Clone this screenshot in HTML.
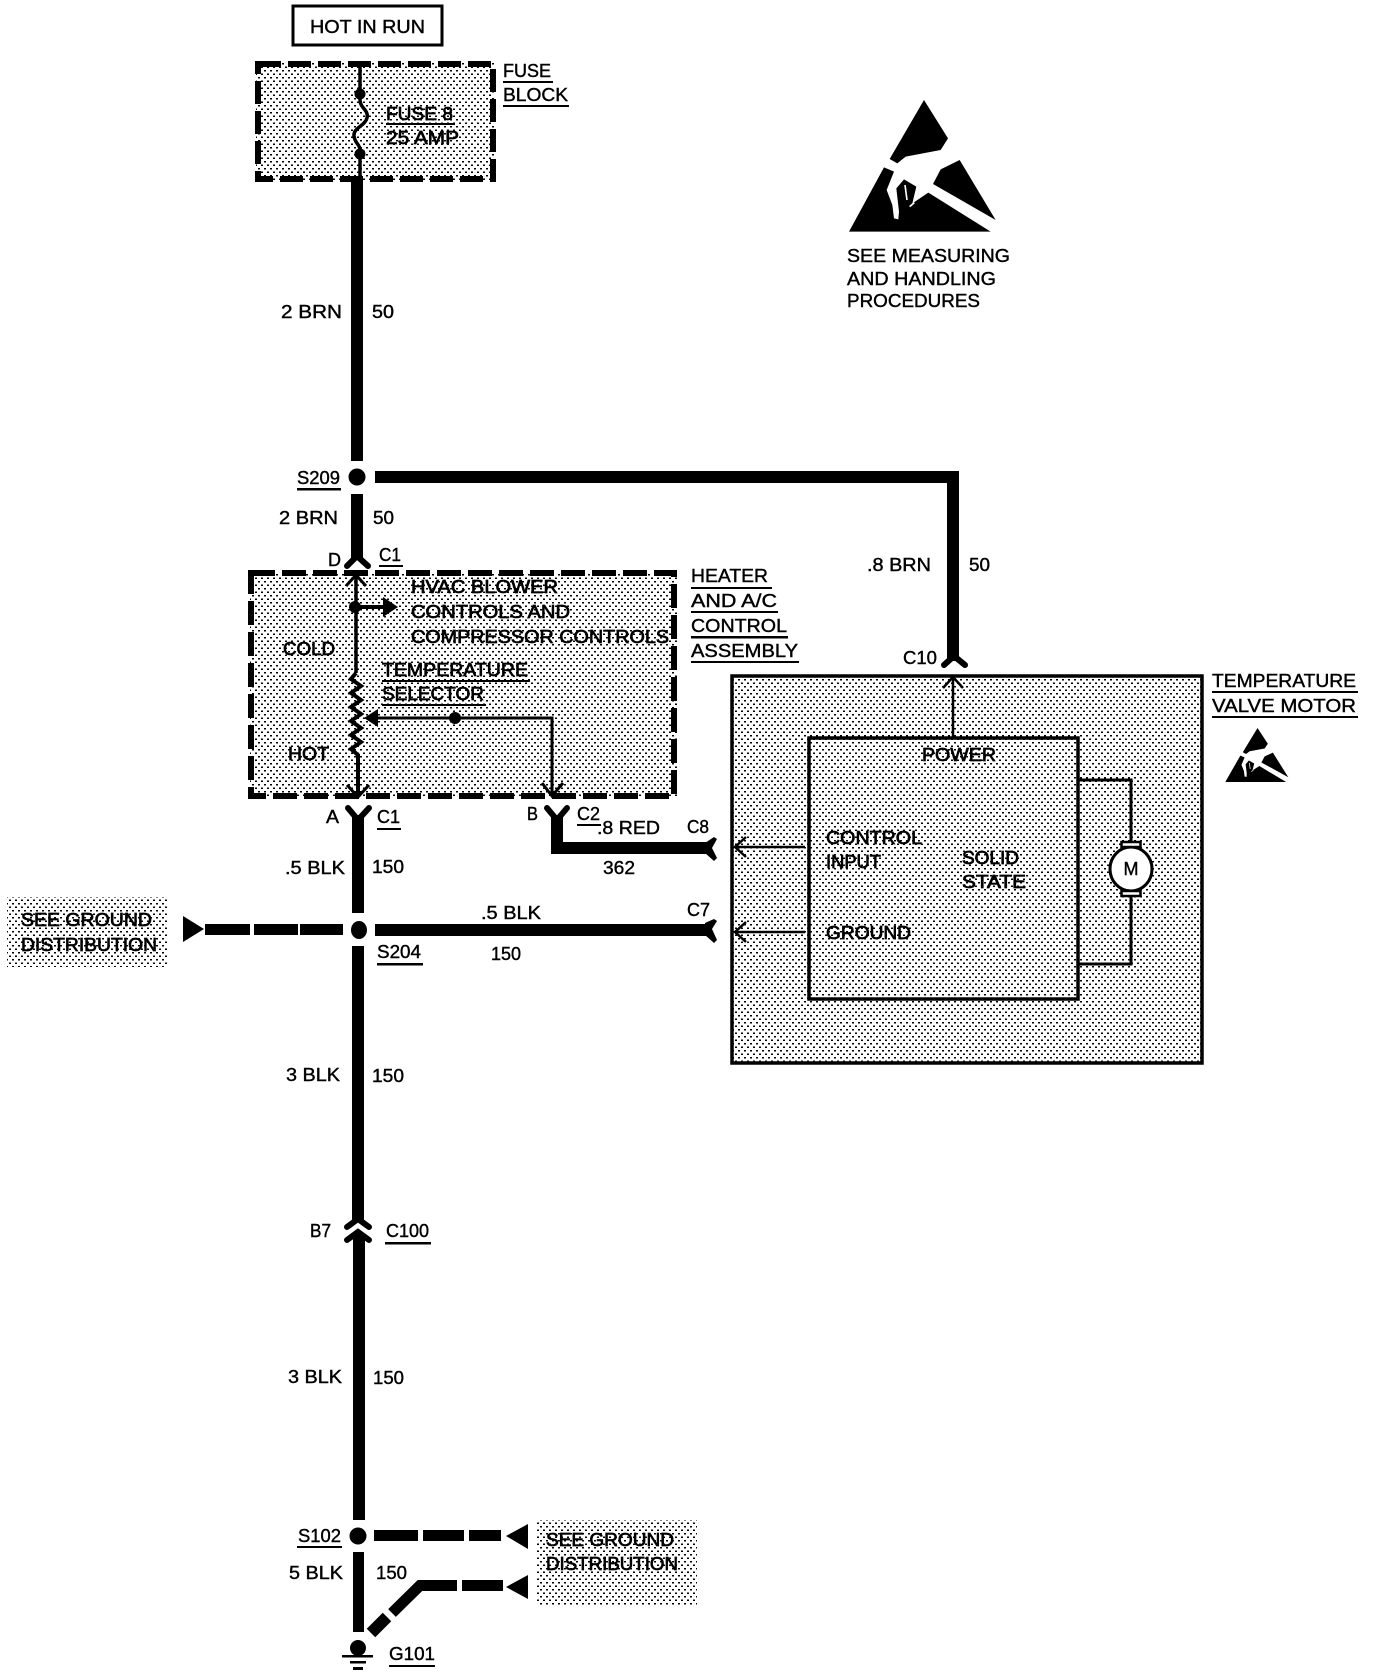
<!DOCTYPE html>
<html><head><meta charset="utf-8"><title>Wiring diagram</title>
<style>
html,body{margin:0;padding:0;background:#fff}
svg{display:block}
text{font-family:"Liberation Sans",sans-serif;font-size:18px;fill:#000;stroke:#000;stroke-width:.4px}
text.b{stroke-width:.7px}
.w{stroke:#000;fill:none}
</style></head><body>
<svg xmlns="http://www.w3.org/2000/svg" width="1376" height="1674" viewBox="0 0 1376 1674">
<defs>
<pattern id="st" width="6" height="7" patternUnits="userSpaceOnUse">
<rect width="6" height="7" fill="#fff"/>
<rect x="0" y="0" width="2" height="1.5" fill="#000"/>
<rect x="3" y="3.500" width="2" height="1.5" fill="#000"/>
</pattern>
<g id="esd">
<polygon points="255,30 327,145 305,180 200,200 175,220 152,207"/>
<polygon points="135,232 30,425 455,425 268,308 220,340 232,290 195,268 172,295 180,365 178,388 165,385 160,345 143,300 165,245"/>
<polygon points="362,210 470,390 282,282 305,238"/>
<path d="M198 285L204 330M212 350L226 338" stroke="#fff" stroke-width="5" fill="none"/>
</g>
</defs>

<!-- shaded zones -->
<rect x="256" y="62" width="239" height="119" fill="url(#st)"/>
<rect x="250" y="572" width="427" height="225" fill="url(#st)"/>
<rect x="732" y="675" width="470" height="388" fill="url(#st)"/>
<rect x="7" y="897" width="161" height="70" fill="url(#st)"/>
<rect x="537" y="1520" width="160" height="85" fill="url(#st)"/>

<!-- hot in run -->
<rect x="293" y="6" width="149" height="39" fill="#fff" stroke="#000" stroke-width="3"/>
<text x="310" y="33" textLength="115" lengthAdjust="spacingAndGlyphs">HOT IN RUN</text>

<!-- fuse block -->
<rect x="258" y="64" width="235" height="115" class="w" stroke-width="6" stroke-dasharray="23 7"/>
<path d="M360 64V100C360 108 369 110 367 118C365 126 353 128 354 136C355 144 360 144 360 150V178" class="w" stroke-width="3.5"/>
<circle cx="360" cy="94" r="5.5"/><circle cx="360" cy="154" r="5.5"/>
<rect x="351" y="177" width="12" height="284"/>
<text x="503" y="77" textLength="48" lengthAdjust="spacingAndGlyphs">FUSE</text>
<rect x="503" y="81" width="50" height="2"/>
<text x="503" y="101" textLength="65" lengthAdjust="spacingAndGlyphs">BLOCK</text>
<rect x="503" y="105" width="66" height="2"/>
<text class="b" x="386" y="120" textLength="67" lengthAdjust="spacingAndGlyphs">FUSE 8</text>
<rect x="386" y="123" width="69" height="2"/>
<text class="b" x="386" y="144" textLength="73" lengthAdjust="spacingAndGlyphs">25 AMP</text>

<text x="281" y="318" textLength="61" lengthAdjust="spacingAndGlyphs">2 BRN</text>
<text x="372" y="318" textLength="22" lengthAdjust="spacingAndGlyphs">50</text>

<!-- ESD large -->
<use href="#esd" transform="translate(819,80) scale(.33333)" x="60" y="30"/>
<text x="847" y="262" textLength="163" lengthAdjust="spacingAndGlyphs">SEE MEASURING</text>
<text x="847" y="285" textLength="149" lengthAdjust="spacingAndGlyphs">AND HANDLING</text>
<text x="847" y="307" textLength="133" lengthAdjust="spacingAndGlyphs">PROCEDURES</text>

<!-- S209 -->
<circle cx="357" cy="477" r="8.5"/>
<text x="297" y="484" textLength="43" lengthAdjust="spacingAndGlyphs">S209</text>
<rect x="297" y="488" width="44" height="2.500"/>
<rect x="351" y="494" width="12" height="66"/>
<rect x="375" y="471" width="584" height="12"/>
<rect x="947" y="471" width="12" height="190"/>
<text x="279" y="524" textLength="59" lengthAdjust="spacingAndGlyphs">2 BRN</text>
<text x="373" y="524" textLength="21" lengthAdjust="spacingAndGlyphs">50</text>
<text x="328" y="566" textLength="13" lengthAdjust="spacingAndGlyphs">D</text>
<text x="379" y="561" textLength="22" lengthAdjust="spacingAndGlyphs">C1</text>
<rect x="379" y="565" width="24" height="2"/>
<path d="M347 566L357 556L368 566" class="w" stroke-width="6" stroke-linecap="round"/>

<!-- right wire labels -->
<text x="867" y="571" textLength="64" lengthAdjust="spacingAndGlyphs">.8 BRN</text>
<text x="969" y="571" textLength="21" lengthAdjust="spacingAndGlyphs">50</text>
<text x="903" y="664" textLength="34" lengthAdjust="spacingAndGlyphs">C10</text>
<path d="M944 665L954 656L965 665" class="w" stroke-width="6" stroke-linecap="round"/>

<!-- heater box -->
<rect x="251" y="573" width="423" height="223" class="w" stroke-width="6" stroke-dasharray="24 7"/>
<path d="M346 586L356 575L366 586" class="w" stroke-width="3"/>
<path d="M356 575V673" class="w" stroke-width="3.5"/>
<path d="M356 673L351 679L361 686L351 693L361 700L351 707L361 714L351 721L361 728L351 735L361 742L351 749L358 755V797" class="w" stroke-width="4"/>
<path d="M347 785L358 797L369 785" class="w" stroke-width="3"/>
<circle cx="355" cy="607" r="6"/>
<path d="M355 607H385" class="w" stroke-width="4"/>
<polygon points="383,597 398,607 383,617"/>
<path d="M375 718H552V795" class="w" stroke-width="3"/>
<polygon points="364,718 378,709 378,727"/>
<circle cx="455" cy="718" r="6"/>
<path d="M542 783L552 796L563 783" class="w" stroke-width="3"/>
<text class="b" x="411" y="593" textLength="147" lengthAdjust="spacingAndGlyphs">HVAC BLOWER</text>
<text class="b" x="411" y="618" textLength="159" lengthAdjust="spacingAndGlyphs">CONTROLS AND</text>
<text class="b" x="411" y="643" textLength="258" lengthAdjust="spacingAndGlyphs">COMPRESSOR CONTROLS</text>
<text class="b" x="283" y="655" textLength="52" lengthAdjust="spacingAndGlyphs">COLD</text>
<text class="b" x="288" y="760" textLength="41" lengthAdjust="spacingAndGlyphs">HOT</text>
<text class="b" x="382" y="676" textLength="146" lengthAdjust="spacingAndGlyphs">TEMPERATURE</text>
<rect x="382" y="680" width="148" height="2"/>
<text class="b" x="382" y="700" textLength="102" lengthAdjust="spacingAndGlyphs">SELECTOR</text>
<rect x="382" y="704" width="104" height="2"/>
<text x="691" y="582" textLength="77" lengthAdjust="spacingAndGlyphs">HEATER</text>
<rect x="691" y="587" width="81" height="2"/>
<text x="691" y="607" textLength="86" lengthAdjust="spacingAndGlyphs">AND A/C</text>
<rect x="691" y="611" width="87" height="2"/>
<text x="691" y="632" textLength="96" lengthAdjust="spacingAndGlyphs">CONTROL</text>
<rect x="691" y="636" width="97" height="2.500"/>
<text x="691" y="657" textLength="107" lengthAdjust="spacingAndGlyphs">ASSEMBLY</text>
<rect x="691" y="661" width="108" height="2"/>

<!-- connectors under heater -->
<path d="M348 808L358 820L369 808" class="w" stroke-width="6" stroke-linecap="round"/>
<rect x="352" y="815" width="12" height="98"/>
<text x="326" y="823" textLength="13" lengthAdjust="spacingAndGlyphs">A</text>
<text x="377" y="823" textLength="23" lengthAdjust="spacingAndGlyphs">C1</text>
<rect x="377" y="828" width="24" height="2"/>
<path d="M547 808L557 820L567 808" class="w" stroke-width="6" stroke-linecap="round"/>
<path d="M557 815V848H708" class="w" stroke-width="12"/>
<polygon points="705,843 714,837 717,839 712,848 717,858 714,861 705,853"/>
<text x="527" y="820" textLength="11" lengthAdjust="spacingAndGlyphs">B</text>
<text x="577" y="820" textLength="23" lengthAdjust="spacingAndGlyphs">C2</text>
<rect x="577" y="824" width="24" height="2"/>
<text x="597" y="834" textLength="63" lengthAdjust="spacingAndGlyphs">.8 RED</text>
<text x="687" y="833" textLength="22" lengthAdjust="spacingAndGlyphs">C8</text>
<text x="285" y="874" textLength="60" lengthAdjust="spacingAndGlyphs">.5 BLK</text>
<text x="372" y="873" textLength="32" lengthAdjust="spacingAndGlyphs">150</text>
<text x="603" y="874" textLength="32" lengthAdjust="spacingAndGlyphs">362</text>

<!-- S204 -->
<ellipse cx="359" cy="930" rx="8" ry="9"/>
<rect x="352" y="946" width="12" height="274"/>
<rect x="375" y="924" width="333" height="12"/>
<polygon points="705,923 714,919 717,921 712,929 717,940 714,943 705,935"/>
<polygon points="183,916 204,929 183,942"/>
<rect x="205" y="924" width="45" height="11"/>
<rect x="254" y="924" width="44" height="11"/>
<rect x="300" y="924" width="43" height="11"/>
<text x="481" y="919" textLength="60" lengthAdjust="spacingAndGlyphs">.5 BLK</text>
<text x="687" y="916" textLength="23" lengthAdjust="spacingAndGlyphs">C7</text>
<text x="377" y="958" textLength="44" lengthAdjust="spacingAndGlyphs">S204</text>
<rect x="377" y="963" width="46" height="2.500"/>
<text x="491" y="960" textLength="30" lengthAdjust="spacingAndGlyphs">150</text>
<text class="b" x="21" y="926" textLength="131" lengthAdjust="spacingAndGlyphs">SEE GROUND</text>
<text class="b" x="21" y="951" textLength="136" lengthAdjust="spacingAndGlyphs">DISTRIBUTION</text>

<!-- motor module -->
<rect x="732" y="676" width="470" height="387" class="w" stroke-width="3.500"/>
<path d="M953 737V679" class="w" stroke-width="2.500"/>
<path d="M943 688L953 677L963 688" class="w" stroke-width="2.500"/>
<rect x="809" y="738" width="269" height="261" class="w" stroke-width="3.500"/>
<path d="M805 847H736M805 932H736" class="w" stroke-width="2.500"/>
<path d="M746 837L735 847L746 857M746 922L735 932L746 942" class="w" stroke-width="2.500"/>
<path d="M1078 780H1131V841M1131 893V964H1078" class="w" stroke-width="3"/>
<ellipse cx="1131" cy="869" rx="21" ry="22" fill="#fff" stroke="#000" stroke-width="3"/>
<rect x="1121.500" y="842" width="19" height="5" fill="#fff" stroke="#000" stroke-width="2.500"/>
<rect x="1121.500" y="891" width="19" height="5" fill="#fff" stroke="#000" stroke-width="2.500"/>
<text x="1131" y="875" text-anchor="middle" font-size="17">M</text>
<text class="b" x="922" y="761" textLength="74" lengthAdjust="spacingAndGlyphs">POWER</text>
<text class="b" x="826" y="844" textLength="96" lengthAdjust="spacingAndGlyphs">CONTROL</text>
<text class="b" x="826" y="868" textLength="55" lengthAdjust="spacingAndGlyphs">INPUT</text>
<text class="b" x="962" y="864" textLength="57" lengthAdjust="spacingAndGlyphs">SOLID</text>
<text class="b" x="962" y="888" textLength="64" lengthAdjust="spacingAndGlyphs">STATE</text>
<text class="b" x="826" y="939" textLength="85" lengthAdjust="spacingAndGlyphs">GROUND</text>
<text x="1212" y="687" textLength="144" lengthAdjust="spacingAndGlyphs">TEMPERATURE</text>
<rect x="1212" y="691" width="146" height="2"/>
<text x="1212" y="712" textLength="144" lengthAdjust="spacingAndGlyphs">VALVE MOTOR</text>
<rect x="1212" y="716" width="146" height="2"/>
<use href="#esd" transform="translate(1221,723.900) scale(.1432,.1367)"/>

<!-- mid wire -->
<text x="286" y="1081" textLength="54" lengthAdjust="spacingAndGlyphs">3 BLK</text>
<text x="372" y="1082" textLength="32" lengthAdjust="spacingAndGlyphs">150</text>
<path d="M347 1227L358 1219L369 1227" class="w" stroke-width="6" stroke-linecap="round"/>
<path d="M347 1240L358 1232L369 1240" class="w" stroke-width="6" stroke-linecap="round"/>
<rect x="353" y="1235" width="12" height="285"/>
<text x="310" y="1237" textLength="21" lengthAdjust="spacingAndGlyphs">B7</text>
<text x="386" y="1237" textLength="43" lengthAdjust="spacingAndGlyphs">C100</text>
<rect x="385" y="1242" width="46" height="2.500"/>
<text x="288" y="1383" textLength="54" lengthAdjust="spacingAndGlyphs">3 BLK</text>
<text x="373" y="1384" textLength="31" lengthAdjust="spacingAndGlyphs">150</text>

<!-- S102 -->
<circle cx="358" cy="1536" r="8.500"/>
<rect x="353" y="1552" width="11" height="80"/>
<text x="298" y="1542" textLength="43" lengthAdjust="spacingAndGlyphs">S102</text>
<rect x="297" y="1546" width="45" height="2"/>
<rect x="374" y="1530" width="44" height="11"/>
<rect x="423" y="1530" width="41" height="11"/>
<rect x="469" y="1530" width="32" height="11"/>
<polygon points="506,1536 528,1524 528,1549"/>
<text x="289" y="1579" textLength="54" lengthAdjust="spacingAndGlyphs">5 BLK</text>
<text x="376" y="1579" textLength="31" lengthAdjust="spacingAndGlyphs">150</text>
<polygon points="506,1587 528,1575 528,1599"/>
<rect x="462" y="1580" width="41" height="11"/>
<path d="M457 1585.500H420L392 1613" class="w" stroke-width="11"/>
<path d="M387 1617L371 1633" class="w" stroke-width="12"/>
<text class="b" x="546" y="1546" textLength="128" lengthAdjust="spacingAndGlyphs">SEE GROUND</text>
<text class="b" x="546" y="1570" textLength="132" lengthAdjust="spacingAndGlyphs">DISTRIBUTION</text>

<!-- ground -->
<circle cx="358" cy="1648" r="8"/>
<rect x="342" y="1655" width="31" height="2.500"/>
<rect x="350" y="1661" width="16" height="2.500"/>
<rect x="353" y="1667" width="10" height="3"/>
<text x="389" y="1660" textLength="46" lengthAdjust="spacingAndGlyphs">G101</text>
<rect x="389" y="1665" width="46" height="2"/>
</svg>
</body></html>
